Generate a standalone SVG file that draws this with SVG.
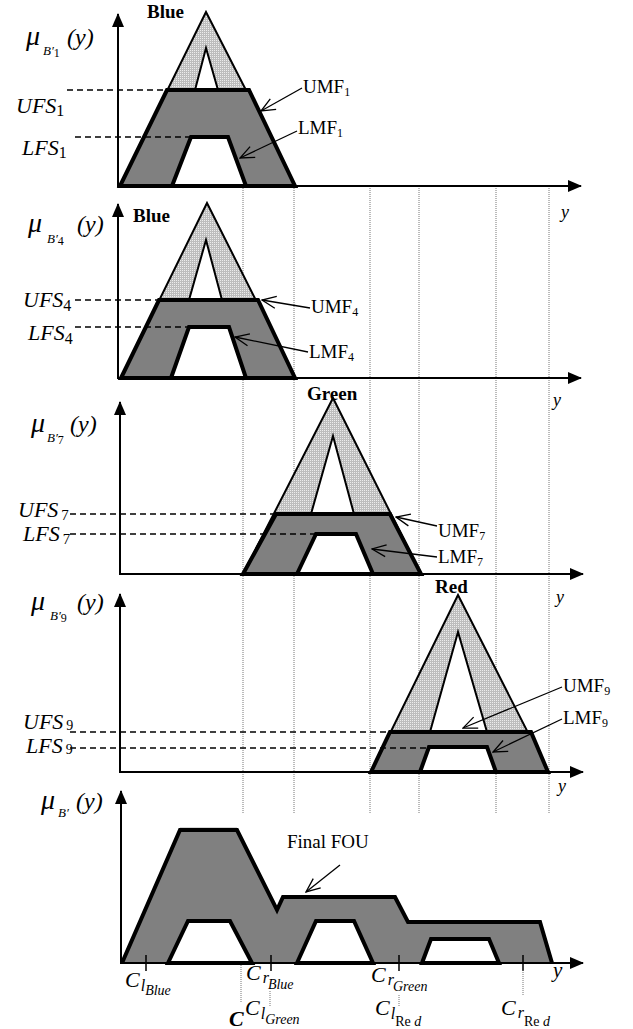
<svg xmlns="http://www.w3.org/2000/svg" width="633" height="1029" viewBox="0 0 633 1029">
<defs>
<pattern id="stip" width="2" height="2" patternUnits="userSpaceOnUse">
<rect width="2" height="2" fill="#bdbdbd"/>
<rect width="1" height="1" fill="#ececec"/>
</pattern>
<marker id="ah" markerUnits="userSpaceOnUse" markerWidth="14" markerHeight="12" refX="13" refY="6" orient="auto">
<path d="M0,0 L14,6 L0,12 Z" fill="#000"/>
</marker>
<marker id="vh" markerUnits="userSpaceOnUse" markerWidth="16" markerHeight="14" refX="15" refY="7" orient="auto">
<path d="M1,1 L15,7 L1,13" fill="none" stroke="#000" stroke-width="1.3"/>
</marker>
<style>
.ax{stroke:#000;stroke-width:2;fill:none;marker-end:url(#ah)}
.tri{fill:url(#stip);stroke:#000;stroke-width:2;stroke-linejoin:miter}
.hole{fill:#fff;stroke:#000;stroke-width:2}
.umf{fill:#808080;stroke:#000;stroke-width:4;stroke-linejoin:miter}
.lmf{fill:#fff;stroke:#000;stroke-width:4;stroke-linejoin:miter}
.dash{stroke:#000;stroke-width:1.6;stroke-dasharray:6,4;fill:none}
.dot{stroke:#777;stroke-width:1;stroke-dasharray:1,1;fill:none}
.lead{stroke:#000;stroke-width:1.3;fill:none;marker-end:url(#vh)}
.tick{stroke:#000;stroke-width:1.5}
text{font-family:"Liberation Serif","Times New Roman",serif;fill:#000}
.it{font-style:italic}
.mu{font-style:italic;font-size:28px}
.s{font-size:13px}
.n{font-size:12px;font-style:normal}
.py{font-style:italic;font-size:24px}
.fs{font-style:italic;font-size:22px}
.bold{font-weight:bold;font-size:19px}
.lab{font-size:19px}
.c{font-style:italic;font-size:22px}
</style>
</defs>

<g id="gridlines">
<line class="dot" x1="243" y1="188" x2="243" y2="814"/>
<line class="dot" x1="294" y1="188" x2="294" y2="814"/>
<line class="dot" x1="370" y1="188" x2="370" y2="814"/>
<line class="dot" x1="419" y1="188" x2="419" y2="814"/>
<line class="dot" x1="496" y1="188" x2="496" y2="814"/>
<line class="dot" x1="549" y1="188" x2="549" y2="814"/>
</g>

<g id="panel1">
<polygon class="tri" points="206,12 120,186 295,186"/>
<polygon class="hole" points="206,48 195,90 218,90"/>
<polygon class="umf" points="120,186 167,90 249,90 295,186"/>
<polygon class="lmf" points="172,186 191,137 228,137 246,186"/>
<line class="ax" x1="118" y1="187" x2="118" y2="14"/>
<line class="ax" x1="117" y1="186" x2="581" y2="186"/>
<line class="dash" x1="67" y1="90" x2="166" y2="90"/>
<line class="dash" x1="75" y1="137" x2="190" y2="137"/>
<text class="bold" x="147" y="18">Blue</text>
<text class="mu" x="26" y="45">μ<tspan class="s" dx="3" dy="10">B′</tspan><tspan class="n" dy="2">1</tspan></text>
<text class="py" x="67" y="45">(y)</text>
<text class="fs" x="16" y="113">UFS<tspan font-size="16" font-style="normal" dy="3">1</tspan></text>
<text class="fs" x="22" y="155">LFS<tspan font-size="16" font-style="normal" dy="3">1</tspan></text>
<text class="lab" x="303" y="93">UMF<tspan font-size="12" dy="3">1</tspan></text>
<text class="lab" x="298" y="134">LMF<tspan font-size="12" dy="3">1</tspan></text>
<text class="it" x="561" y="218" font-size="18">y</text>
</g>

<g id="panel2">
<polygon class="tri" points="207,203 121,378 295,378"/>
<polygon class="hole" points="206,240 189,300 222,300"/>
<polygon class="umf" points="121,378 159,300 258,300 295,378"/>
<polygon class="lmf" points="171,378 189,327 229,327 246,378"/>
<line class="ax" x1="118" y1="379" x2="118" y2="204"/>
<line class="ax" x1="117" y1="378" x2="581" y2="378"/>
<line class="dash" x1="75" y1="300" x2="158" y2="300"/>
<line class="dash" x1="75" y1="327" x2="188" y2="327"/>
<text class="bold" x="133" y="222">Blue</text>
<text class="mu" x="28" y="232">μ<tspan class="s" dx="5" dy="11">B′</tspan><tspan class="n" dy="2">4</tspan></text>
<text class="py" x="77" y="232">(y)</text>
<text class="fs" x="23" y="307">UFS<tspan font-size="16" font-style="normal" dy="4">4</tspan></text>
<text class="fs" x="28" y="340">LFS<tspan font-size="16" font-style="normal" dy="4">4</tspan></text>
<text class="lab" x="311" y="313">UMF<tspan font-size="12" dy="3">4</tspan></text>
<text class="lab" x="309" y="358">LMF<tspan font-size="12" dy="3">4</tspan></text>
<text class="it" x="553" y="406" font-size="18">y</text>
</g>

<g id="panel3">
<polygon class="tri" points="333,398 243,574 421,574"/>
<polygon class="hole" points="333,436 311,514 354,514"/>
<polygon class="umf" points="243,574 276,514 390,514 421,574"/>
<polygon class="lmf" points="297,574 316,534 356,534 373,574"/>
<line class="ax" x1="120" y1="575" x2="120" y2="402"/>
<line class="ax" x1="119" y1="574" x2="583" y2="574"/>
<line class="dash" x1="70" y1="514" x2="275" y2="514"/>
<line class="dash" x1="70" y1="534" x2="315" y2="534"/>
<text class="bold" x="307" y="400">Green</text>
<text class="mu" x="31" y="432">μ<tspan class="s" dx="2" dy="10">B′</tspan><tspan class="n" dy="2">7</tspan></text>
<text class="py" x="70" y="432">(y)</text>
<text class="fs" x="18" y="517" font-size="20">UFS<tspan font-size="15" font-style="normal" dx="3" dy="3">7</tspan></text>
<text class="fs" x="23" y="541" font-size="20">LFS<tspan font-size="15" font-style="normal" dx="3" dy="3">7</tspan></text>
<text class="lab" x="438" y="537">UMF<tspan font-size="12" dy="3">7</tspan></text>
<text class="lab" x="438" y="563">LMF<tspan font-size="12" dy="3">7</tspan></text>
<text class="it" x="556" y="603" font-size="18">y</text>
</g>

<g id="panel4">
<polygon class="tri" points="458,595 371,772 548,772"/>
<polygon class="hole" points="458,632 430,732 487,732"/>
<polygon class="umf" points="371,772 390,732 531,732 548,772"/>
<polygon class="lmf" points="420,772 429,747 487,747 496,772"/>
<line class="ax" x1="120" y1="773" x2="120" y2="594"/>
<line class="ax" x1="119" y1="772" x2="583" y2="772"/>
<line class="dash" x1="70" y1="732" x2="389" y2="732"/>
<line class="dash" x1="70" y1="748" x2="428" y2="748"/>
<text class="bold" x="435" y="593">Red</text>
<text class="mu" x="31" y="610">μ<tspan class="s" dx="5" dy="10">B′</tspan><tspan class="n" dy="2">9</tspan></text>
<text class="py" x="77" y="610">(y)</text>
<text class="fs" x="23" y="729" font-size="17">UFS<tspan font-size="14" font-style="normal" dx="3" dy="1">9</tspan></text>
<text class="fs" x="26" y="753" font-size="17">LFS<tspan font-size="14" font-style="normal" dx="3" dy="1">9</tspan></text>
<text class="lab" x="563" y="692">UMF<tspan font-size="12" dy="3">9</tspan></text>
<text class="lab" x="563" y="724">LMF<tspan font-size="12" dy="3">9</tspan></text>
<text class="it" x="558" y="792" font-size="18">y</text>
</g>

<g id="panel5">
<polygon points="122,963 180,830 237,830 277,910 283,897 395,897 408,922 540,922 552,963" fill="#808080"/>
<polyline points="180,828 237,828" fill="none" stroke="#c8c8c8" stroke-width="1.5"/>
<polyline points="122,963 180,830 237,830 277,910 283,897 395,897 408,922 540,922 552,963" fill="none" stroke="#000" stroke-width="4"/>
<polygon class="lmf" points="168,963 188,921 230,921 252,963"/>
<polygon class="lmf" points="297,963 316,921 354,921 373,963"/>
<polygon class="lmf" points="422,963 431,939 489,939 499,963"/>
<line class="ax" x1="121" y1="964" x2="121" y2="791"/>
<line class="ax" x1="120" y1="963" x2="583" y2="963"/>
<text class="mu" x="41" y="809">μ<tspan class="s" dx="3" dy="8">B′</tspan></text>
<text class="py" x="76" y="809">(y)</text>
<text class="lab" x="287" y="848">Final FOU</text>
<line class="tick" x1="146" y1="955" x2="146" y2="971"/>
<line class="tick" x1="271" y1="955" x2="271" y2="971"/>
<line class="tick" x1="399" y1="955" x2="399" y2="971"/>
<line class="tick" x1="523" y1="955" x2="523" y2="971"/>
<line class="dot" x1="241" y1="965" x2="241" y2="1003"/>
<line class="dot" x1="270" y1="991" x2="270" y2="1006"/>
<line class="dot" x1="399" y1="995" x2="399" y2="1006"/>
<line class="dot" x1="523" y1="970" x2="523" y2="996"/>
<text class="c" x="125" y="987">C<tspan font-size="16" dx="1" dy="4">l</tspan><tspan font-size="14" dy="4">Blue</tspan></text>
<text class="c" x="246" y="980">C<tspan font-size="16" dx="2" dy="3">r</tspan><tspan font-size="14" dx="-1" dy="6">Blue</tspan></text>
<text class="c" x="371" y="982">C<tspan font-size="16" dx="2" dy="3">r</tspan><tspan font-size="14" dx="-1" dy="6">Green</tspan></text>
<text class="it" x="553" y="977" font-size="21">y</text>
<text class="c" x="229" y="1026" font-weight="bold" font-size="23">C</text>
<text class="c" x="245" y="1015">C<tspan font-size="16" dx="1" dy="4">l</tspan><tspan font-size="14" dy="5">Green</tspan></text>
<text class="c" x="375" y="1015">C<tspan font-size="16" dx="1" dy="4">l</tspan><tspan font-size="14" font-style="normal" dy="7">Re</tspan><tspan font-size="14"> d</tspan></text>
<text class="c" x="501" y="1015">C<tspan font-size="16" dx="2" dy="3">r</tspan><tspan font-size="14" font-style="normal" dy="8">Re</tspan><tspan font-size="14"> d</tspan></text>
</g>

<g id="connectors">
<line class="lead" x1="302" y1="88" x2="261" y2="111"/>
<line class="lead" x1="297" y1="131" x2="240" y2="158"/>
<line class="lead" x1="310" y1="308" x2="262" y2="300"/>
<line class="lead" x1="308" y1="352" x2="235" y2="337"/>
<line class="lead" x1="437" y1="526" x2="396" y2="517"/>
<line class="lead" x1="437" y1="557" x2="372" y2="549"/>
<line class="lead" x1="562" y1="687" x2="463" y2="728"/>
<line class="lead" x1="562" y1="719" x2="493" y2="752"/>
<line class="lead" x1="340" y1="865" x2="306" y2="892"/>
</g>
</svg>
